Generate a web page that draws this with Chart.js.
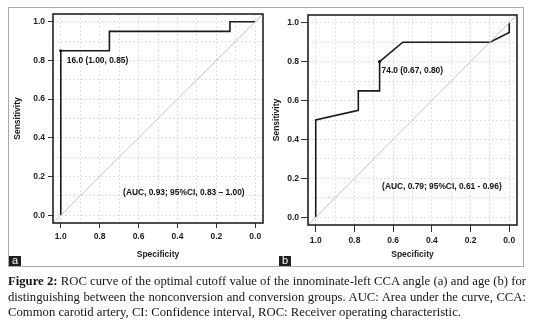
<!DOCTYPE html>
<html>
<head>
<meta charset="utf-8">
<script src="https://cdn.jsdelivr.net/npm/chart.js@4.4.0/dist/chart.umd.min.js"></script>
<style>
  body { margin: 0; width: 539px; height: 324px; background: #fff; position: relative; overflow: hidden; }
  #frame { position: absolute; left: 8px; top: 7px; width: 514px; height: 258px; border: 1px solid #a8a8a8; }
  canvas { position: absolute; top: 0; }
  #chartA { left: 0; }
  #chartB { left: 255px; }
  .tag { position: absolute; width: 12px; height: 10px; background: #1e1e1e; color: #fff;
         font: 11px 'Liberation Sans', Arial, sans-serif; line-height: 9px; text-align: center; }
  #caption { position: absolute; left: 8px; top: 274px; width: 518px; color: #151515;
             font: 12.7px 'Liberation Serif', serif; line-height: 15.5px; }
  #caption div { text-align: justify; text-align-last: justify; white-space: nowrap; }
  #caption div.last { text-align-last: left; }
</style>
</head>
<body>
<div id="frame"></div>
<canvas id="chartA" width="270" height="270"></canvas>
<canvas id="chartB" width="270" height="270"></canvas>
<div class="tag" style="left:9px; top:256px;">a</div>
<div class="tag" style="left:279px; top:256px;">b</div>
<div id="caption">
  <div><b>Figure 2:</b> ROC curve of the optimal cutoff value of the innominate-left CCA angle (a) and age (b) for</div>
  <div>distinguishing between the nonconversion and conversion groups. AUC: Area under the curve, CCA:</div>
  <div class="last">Common carotid artery, CI: Confidence interval, ROC: Receiver operating characteristic.</div>
</div>
<script>
// axis ticks (grid every 0.1, labels every 0.2)
const tickValues = [0, 0.1, 0.2, 0.3, 0.4, 0.5, 0.6, 0.7, 0.8, 0.9, 1.0];
const tickLabels = ['0.0', '', '0.2', '', '0.4', '', '0.6', '', '0.8', '', '1.0'];

// panel a: innominate-left CCA angle
const specA = [1, 1, 0.75, 0.75, 0.13, 0.13, 0];
const sensA = [0, 0.85, 0.85, 0.95, 0.95, 1, 1];
const bestA = [1.0, 0.85];
const bestLabelA = '16.0 (1.00, 0.85)';
const aucLabelA = '(AUC, 0.93; 95%CI, 0.83 \u2013 1.00)';

// panel b: age
const specB = [1, 1, 0.78, 0.78, 0.67, 0.67, 0.55, 0.10, 0, 0];
const sensB = [0, 0.50, 0.55, 0.65, 0.65, 0.80, 0.90, 0.90, 0.95, 1.0];
const bestB = [0.67, 0.80];
const bestLabelB = '74.0 (0.67, 0.80)';
const aucLabelB = '(AUC, 0.79; 95%CI, 0.61 - 0.96)';

const diagSpec = [1.04, -0.04];
const diagSens = [-0.04, 1.04];

const boldFont = { family: "'Liberation Sans', Arial, sans-serif", size: 8.5, weight: 'bold' };
const fontStr = "bold 8.4px 'Liberation Sans', Arial, sans-serif";

function isMajor(c) {
    return c.tick && Math.round(c.tick.value * 10) % 2 === 0;
}

function scaleOpts(title, isX, tickLen, pad, fit) {
    return {
        type: 'linear',
        min: -0.04,
        max: 1.04,
        reverse: isX,
        afterBuildTicks: s => { s.ticks = tickValues.map(v => ({ value: v })); },
        afterFit: s => { if (isX) s.height = fit; else s.width = fit; },
        ticks: {
            callback: (v, i) => tickLabels[i],
            font: boldFont,
            color: '#1a1a1a',
            padding: pad,
            maxRotation: 0,
            autoSkip: false
        },
        grid: {
            color: '#e0e0e0',
            lineWidth: 1,
            tickLength: tickLen,
            tickWidth: 1,
            tickColor: c => isMajor(c) ? '#333' : 'rgba(0,0,0,0)'
        },
        border: { display: false, dash: [2, 2] },
        title: { display: true, text: title, font: boldFont, color: '#1a1a1a', padding: 0 }
    };
}

const rocText = {
    id: 'rocText',
    afterDatasetsDraw(chart, args, o) {
        const { ctx, chartArea, scales } = chart;
        ctx.save();
        ctx.strokeStyle = '#222';
        ctx.lineWidth = 1.6;
        ctx.strokeRect(chartArea.left, chartArea.top, chartArea.right - chartArea.left, chartArea.bottom - chartArea.top);
        ctx.font = fontStr;
        ctx.fillStyle = '#111';
        ctx.textBaseline = 'middle';
        ctx.textAlign = 'left';
        ctx.fillText(o.best, scales.x.getPixelForValue(o.bestAt[0]) + o.bestOff[0],
                     scales.y.getPixelForValue(o.bestAt[1]) + o.bestOff[1]);
        ctx.textAlign = 'center';
        ctx.fillText(o.auc, scales.x.getPixelForValue(o.aucAt[0]), scales.y.getPixelForValue(o.aucAt[1]));
        ctx.restore();
    }
};

function makeChart(id, spec, sens, best, bestLabel, aucLabel, cfg) {
    const ctx = document.getElementById(id).getContext('2d');
    return new Chart(ctx, {
        type: 'scatter',
        data: {
            datasets: [
                {
                    data: diagSpec.map((x, i) => ({ x: x, y: diagSens[i] })),
                    showLine: true,
                    borderColor: '#c4c4c4',
                    borderWidth: 1,
                    pointRadius: 0
                },
                {
                    data: spec.map((x, i) => ({ x: x, y: sens[i] })),
                    showLine: true,
                    borderColor: '#1a1a1a',
                    borderWidth: 1.6,
                    pointRadius: 0
                },
                {
                    data: [{ x: best[0], y: best[1] }],
                    pointRadius: 1.6,
                    backgroundColor: '#000',
                    borderWidth: 0
                }
            ]
        },
        options: {
            responsive: false,
            animation: false,
            events: [],
            layout: { padding: cfg.padding },
            plugins: {
                legend: { display: false },
                tooltip: { enabled: false },
                rocText: { best: bestLabel, bestAt: best, bestOff: cfg.bestOff, auc: aucLabel, aucAt: cfg.aucAt }
            },
            scales: {
                x: scaleOpts('Specificity', true, cfg.tickLen, 4, cfg.xFit),
                y: scaleOpts('Sensitivity', false, cfg.tickLen, cfg.yPad, cfg.yFit)
            }
        },
        plugins: [rocText]
    });
}

makeChart('chartA', specA, sensA, bestA, bestLabelA, aucLabelA, {
    padding: { left: 13, top: 14, right: 7, bottom: 10 },
    xFit: 37, yFit: 40, tickLen: 5, yPad: 3,
    bestOff: [6, 10], aucAt: [0.367, 0.118]
});

makeChart('chartB', specB, sensB, bestB, bestLabelB, aucLabelB, {
    padding: { left: 17, top: 15, right: 8, bottom: 10 },
    xFit: 35, yFit: 36, tickLen: 7, yPad: 2,
    bestOff: [2, 9], aucAt: [0.348, 0.159]
});
</script>
</body>
</html>
